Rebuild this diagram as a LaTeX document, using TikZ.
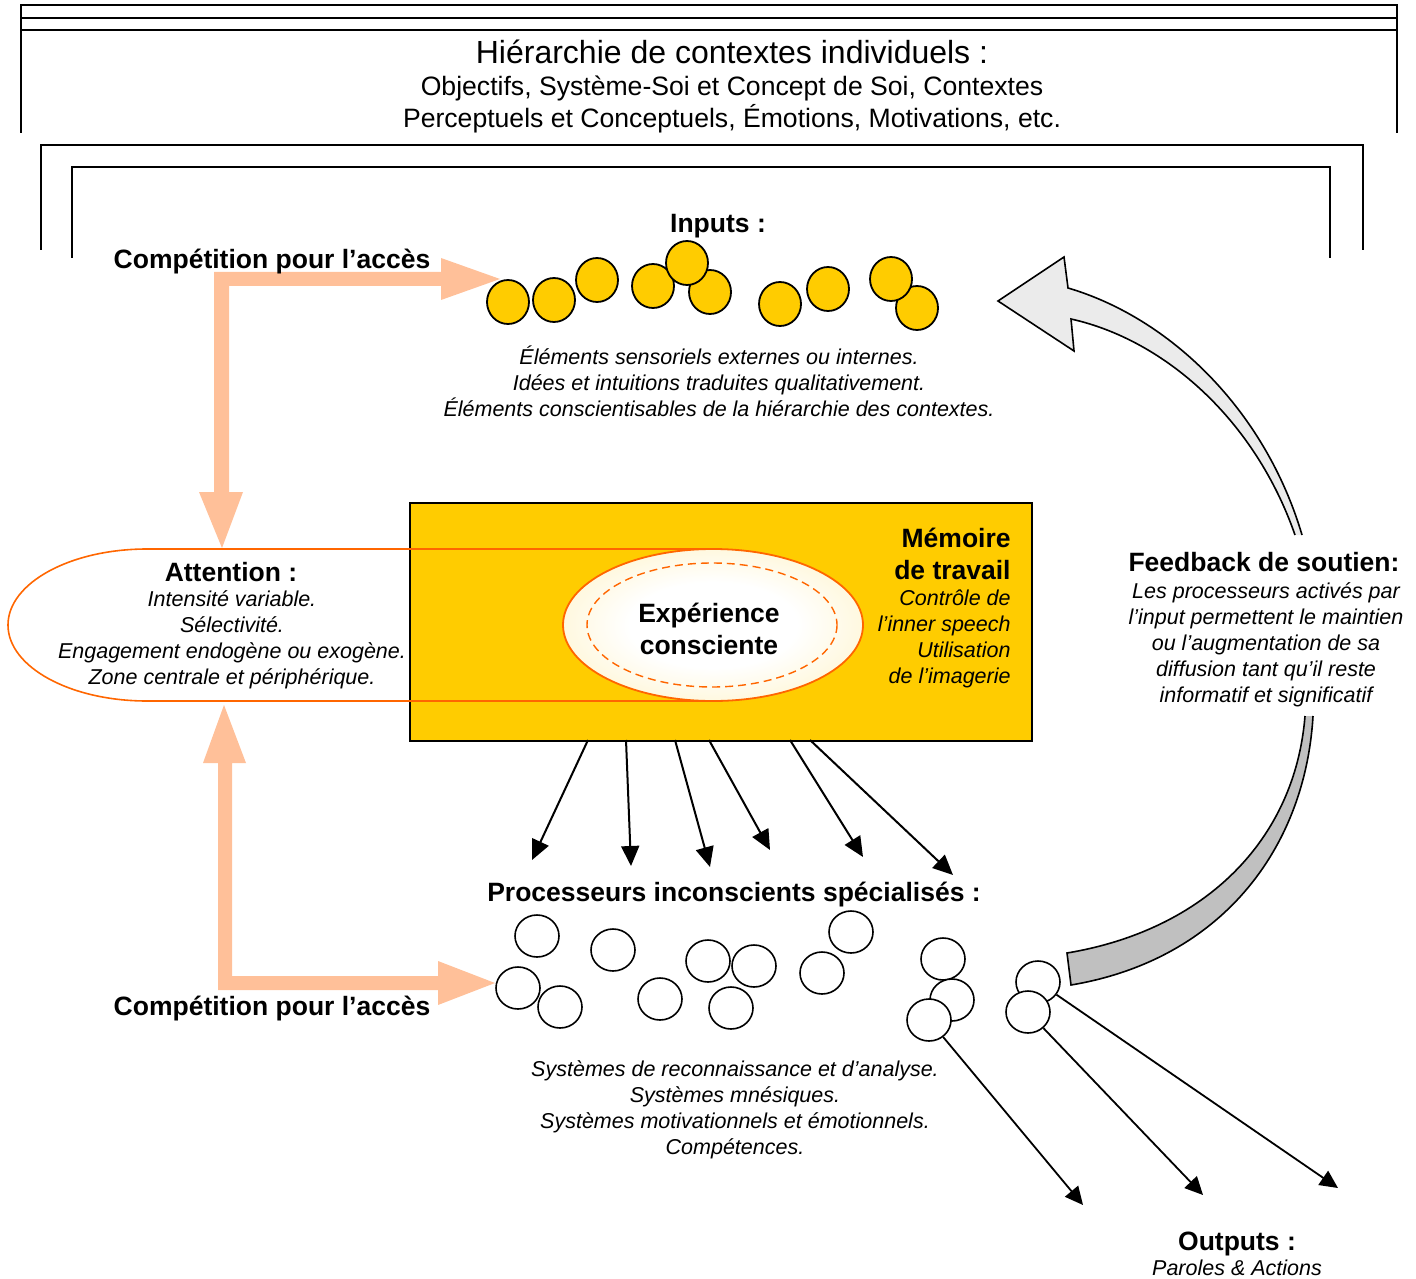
\documentclass[tikz,border=0pt]{standalone}
\usepackage{fontspec}
\setmainfont{Liberation Sans}
\usetikzlibrary{shapes.geometric,arrows.meta}
\definecolor{peach}{HTML}{FFC099}
\definecolor{gold}{HTML}{FFCC00}
\definecolor{orng}{HTML}{FF6600}
\definecolor{lgray}{HTML}{EBEBEB}
\definecolor{mgray}{HTML}{C0C0C0}
\definecolor{cream}{HTML}{FFE996}
\pgfdeclareradialshading{expshade}{\pgfpoint{0bp}{0bp}}{color(0bp)=(white); color(14bp)=(white); color(50bp)=(cream); color(100bp)=(cream)}
\begin{document}
\begin{tikzpicture}[x=0.5pt,y=-0.5pt,
  frame/.style={line width=1pt},
  incirc/.style={ellipse, draw, line width=0.9pt, fill=gold, minimum width=21pt, minimum height=22pt, inner sep=0pt},
  pcirc/.style={ellipse, draw, line width=0.8pt, fill=white, minimum width=22pt, minimum height=21pt, inner sep=0pt},
  hdr/.style={font=\fontsize{13.25}{16}\selectfont\bfseries, align=center, inner sep=0pt},
  desc/.style={font=\fontsize{10.75}{13}\selectfont\itshape, align=center, inner sep=0pt},
  blk/.style={line width=1pt, -{Triangle[length=10pt,width=9pt]}},
  outarr/.style={line width=0.9pt, -{Triangle[length=9pt,width=8.5pt]}},
  peacharrow/.style={fill=peach, draw=none},
  orline/.style={draw=orng, line width=0.8pt}
]
\useasboundingbox (0,0) rectangle (1416,1278);

% ---- frames of context hierarchy
\draw[frame] (21,133) -- (21,5) -- (1397,5) -- (1397,133);
\draw[frame] (21,18) -- (1397,18);
\draw[frame] (21,30) -- (1397,30);
\draw[frame] (41,250) -- (41,145) -- (1363,145) -- (1363,250);
\draw[frame] (72,258) -- (72,167) -- (1330,167) -- (1330,258);

\node[font=\fontsize{16}{19}\selectfont, inner sep=0pt] (ttl) at (732,52) {Hiérarchie de contextes individuels :};
\node[font=\fontsize{13.3}{16}\selectfont, align=center, inner sep=0pt] (sub) at (732,104) {Objectifs, Système-Soi et Concept de Soi, Contextes\\Perceptuels et Conceptuels, Émotions, Motivations, etc.};

% ---- peach arrows
\fill[peacharrow] (214,272) -- (441,272) -- (441,258) -- (500,279) -- (441,300) -- (441,286) -- (229,286) -- (229,492) -- (243,492) -- (222,548) -- (199,492) -- (214,492) -- cycle;
\fill[peacharrow] (224,705) -- (246,763) -- (232,763) -- (232,976) -- (438,976) -- (438,961) -- (495,983) -- (438,1005) -- (438,990) -- (218,990) -- (218,763) -- (203,763) -- cycle;
\node[hdr] (comp1) at (272,262) {Compétition pour l’accès};
\node[hdr] (comp2) at (272,1009) {Compétition pour l’accès};

% ---- inputs
\node[hdr] (inp) at (718,226) {Inputs :};
\node[incirc] (i1) at (508,302) {};
\node[incirc] (i2) at (554,300) {};
\node[incirc] (i3) at (597,280) {};
\node[incirc] (i4) at (653,286) {};
\node[incirc] (i5) at (710,292) {};
\node[incirc] (i6) at (687,263) {};
\node[incirc] (i7) at (780,304) {};
\node[incirc] (i8) at (828,289) {};
\node[incirc] (i10) at (917,308) {};
\node[incirc] (i9) at (891,279) {};
\node[desc] (inpd) at (719,381) {Éléments sensoriels externes ou internes.\\Idées et intuitions traduites qualitativement.\\Éléments conscientisables de la hiérarchie des contextes.};

% ---- feedback arrow (upper part)
\filldraw[fill=lgray, draw=black, line width=0.8pt, line join=miter]
  (1295,535) .. controls (1255,420) and (1165,340) .. (1071,319)
  -- (1074,351) -- (998,301) -- (1064,257) -- (1068,288)
  .. controls (1170,318) and (1265,410) .. (1302,535);
% ---- feedback arrow (lower part)
\filldraw[fill=mgray, draw=black, line width=0.8pt]
  (1305,716) .. controls (1295,840) and (1205,930) .. (1067,953)
  -- (1071,985) .. controls (1220,960) and (1305,850) .. (1313,716);
\node[hdr] (fb) at (1264,562) {Feedback de soutien:};
\node[desc] (fbd) at (1266,644.5) {Les processeurs activés par\\l’input permettent le maintien\\ou l’augmentation de sa\\diffusion tant qu’il reste\\informatif et significatif};

% ---- working memory box
\node[draw, fill=gold, line width=0.8pt, minimum width=311pt, minimum height=119pt, anchor=north west, inner sep=0pt] (wm) at (409,502) {};
\node[hdr, align=right, anchor=east] (wmt) at (1011,554) {Mémoire\\de travail};
\node[desc, align=right, anchor=east] (wmd) at (1011,639) {Contrôle de\\l’inner speech\\Utilisation\\de l’imagerie};

% ---- attention spotlight
\draw[orline] (713,549) -- (147,549) arc[start angle=270, end angle=90, x radius=139, y radius=76] -- (713,701);
\node[hdr] (att) at (231,572) {Attention :};
\node[desc] (attd) at (232,640) {Intensité variable.\\Sélectivité.\\Engagement endogène ou exogène.\\Zone centrale et périphérique.};

% ---- conscious experience
\node[ellipse, draw=orng, line width=0.9pt, shading=expshade, minimum width=150pt, minimum height=76pt, inner sep=0pt] (exp) at (713,625) {};
\draw[draw=orng, line width=0.7pt, dash pattern=on 4pt off 2.5pt] (712,625) ellipse[x radius=125, y radius=62];
\node[hdr] (expt) at (709,629) {Expérience\\consciente};

% ---- arrows to processors
\coordinate (s1) at (588,740); \coordinate (t1) at (532,860);
\coordinate (s2) at (626,740); \coordinate (t2) at (631,866);
\coordinate (s3) at (675,740); \coordinate (t3) at (710,867);
\coordinate (s4) at (709,740); \coordinate (t4) at (770,850);
\coordinate (s5) at (790,740); \coordinate (t5) at (863,857);
\coordinate (s6) at (810,740); \coordinate (t6) at (953,875);
\foreach \k in {1,...,6} {\draw[blk] (s\k) -- (t\k);}

% ---- processors
\node[hdr] (proc) at (734,895) {Processeurs inconscients spécialisés :};
\node[pcirc] (p1) at (537,936) {};
\node[pcirc] (p2) at (613,950) {};
\node[pcirc] (p3) at (518,988) {};
\node[pcirc] (p4) at (560,1007) {};
\node[pcirc] (p5) at (660,999) {};
\node[pcirc] (p6) at (708,961) {};
\node[pcirc] (p7) at (754,966) {};
\node[pcirc] (p8) at (731,1008) {};
\node[pcirc] (p9) at (851,932) {};
\node[pcirc] (p10) at (822,973) {};
\node[pcirc] (p11) at (943,959) {};
\node[pcirc] (p12) at (952,1000) {};
\node[pcirc] (p13) at (929,1020) {};
\node[pcirc] (p14) at (1038,982) {};
\node[pcirc] (p15) at (1028,1012) {};
\node[desc] (procd) at (735,1110) {Systèmes de reconnaissance et d’analyse.\\Systèmes mnésiques.\\Systèmes motivationnels et émotionnels.\\Compétences.};

% ---- outputs
\coordinate (o1) at (1083,1205);
\coordinate (o2) at (1203,1195);
\coordinate (o3) at (1338,1188);
\draw[outarr] (p13) -- (o1);
\draw[outarr] (p15) -- (o2);
\draw[outarr] (p14) -- (o3);
\node[hdr] (out) at (1237,1244) {Outputs :};
\node[desc] (outd) at (1237,1268) {Paroles \& Actions};
\end{tikzpicture}
\end{document}
